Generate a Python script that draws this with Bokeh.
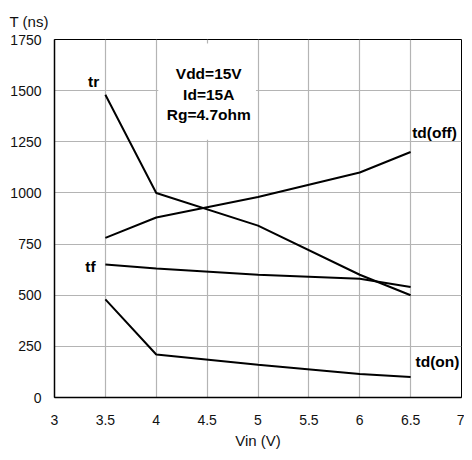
from bokeh.plotting import figure
from bokeh.models import Range1d, FixedTicker
from bokeh.core.properties import value
from bokeh.embed import file_html
from bokeh.resources import INLINE

vin = [3.5, 4, 5, 6, 6.5]
tr = [1480, 1000, 840, 600, 500]
td_off = [780, 880, 980, 1100, 1200]
tf = [650, 630, 600, 580, 540]
td_on = [480, 210, 160, 115, 100]

x_ticks = [3, 3.5, 4, 4.5, 5, 5.5, 6, 6.5, 7]
x_tick_labels = ["3", "3.5", "4", "4.5", "5", "5.5", "6", "6.5", "7"]
y_ticks = [0, 250, 500, 750, 1000, 1250, 1500, 1750]

series_names = ["tr", "td(off)", "tf", "td(on)"]
name_x = [3.385, 6.735, 3.353, 6.764]
name_y = [1546, 1294, 639, 175]

cond_lines = ["Vdd=15V", "Id=15A", "Rg=4.7ohm"]
cond_y = [1585, 1483, 1385]

FONT = "Liberation Sans"

p = figure(width=464, height=452, output_backend="svg", toolbar_location=None,
           x_range=Range1d(3, 7), y_range=Range1d(0, 1750),
           min_border_left=54, min_border_right=3, min_border_top=38, min_border_bottom=55,
           title="T (ns)")
p.title.align = "left"
p.title.offset = -45
p.title.standoff = 20
p.title.text_font = FONT
p.title.text_font_size = "15px"
p.title.text_font_style = "normal"
p.title.text_color = "#111111"

p.outline_line_color = "black"
p.outline_line_width = 1
p.background_fill_color = "white"

p.xaxis.ticker = FixedTicker(ticks=x_ticks)
p.xaxis.major_label_overrides = {t: l for t, l in zip(x_ticks, x_tick_labels)}
p.yaxis.ticker = FixedTicker(ticks=y_ticks)
p.xgrid.ticker = FixedTicker(ticks=x_ticks[1:-1])
p.ygrid.ticker = FixedTicker(ticks=y_ticks[1:-1])
for g in (p.xgrid[0], p.ygrid[0]):
    g.grid_line_color = "#b4b4b4"
    g.grid_line_width = 1.2

for ax in (p.xaxis[0], p.yaxis[0]):
    ax.axis_line_color = "black"
    ax.axis_line_width = 1.5
    ax.major_tick_line_color = None
    ax.minor_tick_line_color = None
    ax.major_tick_out = 0
    ax.major_tick_in = 0
    ax.minor_tick_out = 0
    ax.minor_tick_in = 0
    ax.major_label_text_font = FONT
    ax.major_label_text_font_size = "14px"
    ax.major_label_text_color = "#111111"
p.xaxis.major_label_standoff = 17
p.yaxis.major_label_standoff = 13
p.xaxis.axis_label = "Vin (V)"
p.xaxis.axis_label_text_font = FONT
p.xaxis.axis_label_text_font_size = "15px"
p.xaxis.axis_label_text_font_style = "normal"
p.xaxis.axis_label_text_color = "#111111"
p.xaxis.axis_label_standoff = 4

# white box behind condition text
p.quad(left=[4.02], right=[4.98], bottom=[1260], top=[1730],
       fill_color="white", line_color=None)

for ys in (tr, td_off, tf, td_on):
    p.line(vin, ys, line_color="black", line_width=2)

p.text(x=name_x, y=name_y, text=series_names, text_font=value(FONT),
       text_font_size="15.5px", text_font_style="bold", text_align="center",
       text_baseline="middle", text_color="black")

p.text(x=[4.516] * 3, y=cond_y, text=cond_lines, text_font=value(FONT),
       text_font_size="15.5px", text_font_style="bold", text_align="center",
       text_baseline="middle", text_color="black")

open("out.html", "w").write(file_html(p, INLINE))
